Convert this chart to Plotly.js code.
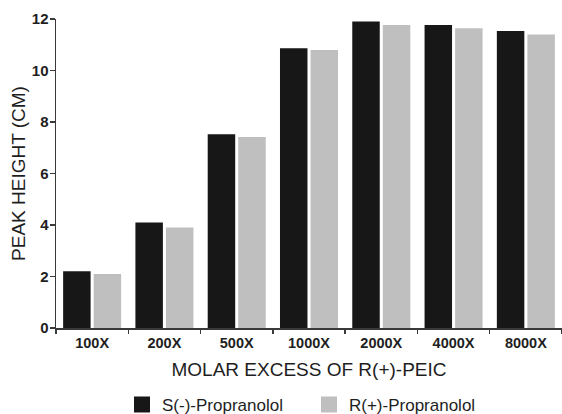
<!DOCTYPE html>
<html>
<head>
<meta charset="utf-8">
<script src="https://cdn.plot.ly/plotly-3.0.1.min.js"></script>
<style>html,body{margin:0;padding:0;background:#fff;}#chart{width:562px;height:414px;}</style>
</head>
<body>
<div id="chart"></div>
<script>
const categories = ["100X", "200X", "500X", "1000X", "2000X", "4000X", "8000X"];
const sPropranolol = [2.2, 4.1, 7.52, 10.86, 11.9, 11.77, 11.53];
const rPropranolol = [2.1, 3.9, 7.42, 10.8, 11.77, 11.64, 11.4];
const seriesNames = ["S(-)-Propranolol", "R(+)-Propranolol"];
const yTicks = [0, 2, 4, 6, 8, 10, 12];

const font = {family: "Liberation Sans, Arial, Helvetica, sans-serif", color: "#1e1e1e"};
const black = "#171717", gray = "#bfbfbf", axisCol = "#3a3a3a";

const data = [
  {type: "bar", name: seriesNames[0], x: categories, y: sPropranolol, showlegend: false,
   marker: {color: black, line: {width: 0}}},
  {type: "bar", name: seriesNames[1], x: categories, y: rPropranolol, showlegend: false,
   marker: {color: gray, line: {width: 0}}},
  // legend-only entries (bigger square swatches)
  {type: "scatter", mode: "markers", name: seriesNames[0], x: [null], y: [null],
   marker: {symbol: "square", size: 16, color: black}},
  {type: "scatter", mode: "markers", name: seriesNames[1], x: [null], y: [null],
   marker: {symbol: "square", size: 16, color: gray}}
];

const layout = {
  width: 562, height: 414,
  margin: {l: 56, r: 0, t: 19, b: 86, pad: 0, autoexpand: false},
  paper_bgcolor: "#fff", plot_bgcolor: "#fff",
  barmode: "group", bargap: 0.155, bargroupgap: 0.1,
  font: Object.assign({size: 13}, font),
  showlegend: true,
  legend: {orientation: "h", x: 0.5, xanchor: "center", y: -0.249, yanchor: "middle",
           font: Object.assign({size: 17}, font), itemwidth: 30, traceorder: "normal",
           entrywidth: 142, entrywidthmode: "pixels"},
  xaxis: {
    type: "category", range: [-0.5, 6.5], automargin: false,
    showline: true, linecolor: axisCol, linewidth: 1.5,
    ticks: "outside", tickson: "boundaries", ticklen: 4, tickcolor: axisCol, tickwidth: 1.5,
    ticklabelstandoff: 1,
    tickfont: Object.assign({size: 14.5, weight: "bold"}, font), showgrid: false, zeroline: false,
    title: {text: "MOLAR EXCESS OF R(+)-PEIC", font: Object.assign({size: 19}, font), standoff: 13}
  },
  xaxis2: {
    overlaying: "x", anchor: "y", side: "bottom", range: [-0.5, 6.5],
    tickmode: "linear", tick0: 0.5, dtick: 1, ticks: "inside", ticklen: 4,
    tickcolor: axisCol, tickwidth: 1.5, showticklabels: false, showgrid: false,
    zeroline: false, showline: false, automargin: false
  },
  yaxis: {
    range: [0, 12], automargin: false, tickvals: yTicks, ticktext: yTicks.map(String),
    showline: true, linecolor: axisCol, linewidth: 1.5,
    ticks: "outside", ticklen: 5, tickcolor: axisCol, tickwidth: 1.5,
    ticklabelstandoff: -2,
    tickfont: Object.assign({size: 15, weight: "bold"}, font), showgrid: false, zeroline: false,
    title: {text: "PEAK HEIGHT (CM)", font: Object.assign({size: 19}, font), standoff: 1}
  },
  yaxis2: {
    overlaying: "y", anchor: "x", side: "left", range: [0, 12],
    tickvals: yTicks, ticks: "inside", ticklen: 3, tickcolor: axisCol, tickwidth: 1.5,
    showticklabels: false, showgrid: false, zeroline: false, showline: false, automargin: false
  }
};

Plotly.newPlot("chart", data, layout, {displayModeBar: false, staticPlot: true});
</script>
</body>
</html>
